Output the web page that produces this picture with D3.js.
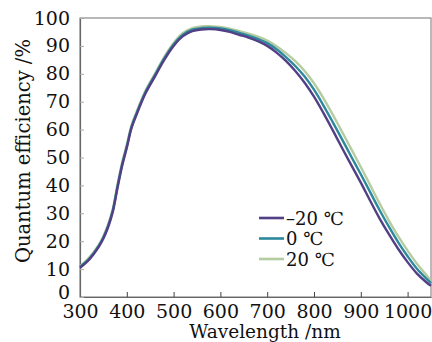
<!DOCTYPE html>
<html>
<head>
<meta charset="utf-8">
<script src="https://cdn.jsdelivr.net/npm/d3@7/dist/d3.min.js"></script>
<style>
  html, body { margin: 0; padding: 0; background: #fff; }
  svg { display: block; }
  text { font-family: "DejaVu Serif", serif; fill: #111; }
</style>
</head>
<body>
<svg id="chart" width="432" height="342"></svg>
<script>
// wavelength grid (nm)
const wavelengths = [300, 320, 340, 350, 360, 370, 380, 390, 400, 410, 420, 440, 460, 480, 500, 520, 540, 560, 580, 600,
  620, 640, 660, 680, 700, 720, 740, 760, 780, 800, 820, 840, 860, 880, 900, 920, 940, 960, 980, 1000, 1020, 1040, 1050];

// quantum efficiency (%) per temperature
const qeMinus20 = [10.5, 13.5, 18, 21, 25, 30.5, 39, 47, 53.5, 60.5, 65, 73, 79, 85, 90, 93.5, 95.3, 95.9, 96, 95.7,
  95, 94, 93, 91.7, 90, 87.6, 84.6, 81, 76.8, 71.8, 66, 59.8, 53.4, 47.2, 41, 34.5, 28.2, 22.5, 17.2, 12.5, 8.4, 5.3, 4];
const qe0 = [10.8, 13.8, 18.3, 21.4, 25.5, 31, 39.6, 47.6, 54, 61, 65.5, 73.5, 79.5, 85.5, 90.5, 94, 95.8, 96.4, 96.5, 96.3,
  95.6, 94.7, 93.7, 92.5, 91, 88.8, 86, 82.8, 79, 74.3, 68.7, 62.7, 56.5, 50.2, 44, 37.6, 31.2, 25.2, 19.6, 14.6, 10.1, 6.6, 5];
const qe20 = [11, 14.2, 18.7, 21.8, 26, 31.5, 40.2, 48.2, 54.6, 61.5, 66, 74, 80, 86, 91, 94.6, 96.4, 97, 97, 96.8,
  96.2, 95.3, 94.4, 93.3, 91.9, 89.9, 87.4, 84.5, 81, 76.6, 71.3, 65.4, 59.2, 52.9, 46.6, 40.1, 33.6, 27.4, 21.7, 16.6, 11.9, 7.9, 5.7];

const seriesNames = ["\u201320 \u2103", "0 \u2103", "20 \u2103"];
const seriesColors = ["#523f85", "#2c889c", "#b5cba0"];
const xTicks = [300, 400, 500, 600, 700, 800, 900, 1000];
const yTicks = [0, 10, 20, 30, 40, 50, 60, 70, 80, 90, 100];

const margin = { top: 18, right: 1, bottom: 45, left: 80 };
const width = 432, height = 342;

const svg = d3.select("#chart");

const x = d3.scaleLinear().domain([300, 1050]).range([margin.left, width - margin.right]);
const y = d3.scaleLinear().domain([0, 100]).range([height - margin.bottom, margin.top]);

// frame
svg.append("rect")
  .attr("x", x(300)).attr("y", y(100))
  .attr("width", x(1050) - x(300)).attr("height", y(0) - y(100))
  .attr("fill", "none").attr("stroke", "#8a8a8a").attr("stroke-width", 1.2);

// axes with inward ticks
const xAxis = svg.append("g")
  .attr("transform", `translate(0,${y(0)})`)
  .call(d3.axisBottom(x).tickValues(xTicks).tickFormat(d3.format("d")).tickSizeInner(-5).tickSizeOuter(0).tickPadding(8));
const yAxis = svg.append("g")
  .attr("transform", `translate(${x(300)},0)`)
  .call(d3.axisLeft(y).tickValues(yTicks).tickFormat(d3.format("d")).tickSizeInner(-4).tickSizeOuter(0).tickPadding(10));

[xAxis, yAxis].forEach(g => {
  g.select(".domain").attr("stroke", "#666").attr("stroke-width", 1.2);
  g.selectAll(".tick line").attr("stroke", "#444");
  g.selectAll(".tick text").attr("font-family", "DejaVu Serif").attr("font-size", 19).attr("fill", "#111");
});
yAxis.selectAll(".tick line").attr("stroke", "#aaa");
// the zero label sits a little higher than the others
yAxis.selectAll(".tick text").filter(d => d === 0).attr("dy", "0.1em");

// curves
const data = [qeMinus20, qe0, qe20];
const line = d3.line()
  .x((d, i) => x(wavelengths[i]))
  .y(d => y(d))
  .curve(d3.curveCatmullRom.alpha(0.5));

// draw warm to cold so the -20 line is on top where they overlap
[2, 1, 0].forEach(k => {
  svg.append("path")
    .datum(data[k])
    .attr("fill", "none")
    .attr("stroke", seriesColors[k])
    .attr("stroke-width", 2.4)
    .attr("d", line);
});

// legend
const legend = svg.append("g");
seriesNames.forEach((name, i) => {
  const ly = 218 + i * 20.5;
  legend.append("line")
    .attr("x1", 259).attr("x2", 284).attr("y1", ly).attr("y2", ly)
    .attr("stroke", seriesColors[i]).attr("stroke-width", 2.6);
  legend.append("text")
    .attr("x", 286).attr("y", ly + 6.5)
    .attr("font-size", 18)
    .text(name);
});

// axis titles
svg.append("text")
  .attr("x", 265).attr("y", 338)
  .attr("text-anchor", "middle")
  .attr("font-size", 18.5)
  .text("Wavelength /nm");

svg.append("text")
  .attr("transform", "translate(30,151) rotate(-90)")
  .attr("text-anchor", "middle")
  .attr("font-size", 19.5)
  .text("Quantum efficiency /%");
</script>
</body>
</html>
